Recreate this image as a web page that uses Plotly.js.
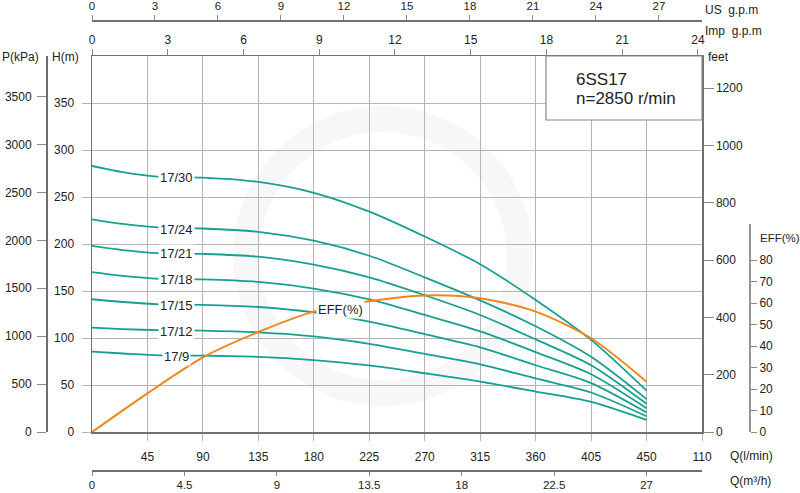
<!DOCTYPE html>
<html>
<head>
<meta charset="utf-8">
<script src="https://cdn.plot.ly/plotly-3.0.1.min.js"></script>
<style>
  html, body { margin: 0; padding: 0; background: #fff; }
  #chart { width: 800px; height: 493px; }
</style>
</head>
<body>
<div id="chart"></div>
<script>
// flow points (l/min) where the head curves were read
var flowLpm = [0, 25, 55, 90, 135, 180, 225, 270, 315, 360, 405, 450];

// head in metres, one array per model
var head30 = [283, 276.5, 271.5, 270.6, 266, 254.5, 234.5, 208, 178.5, 140.5, 98, 44];
var head24 = [226.3, 221.3, 217.5, 216.5, 213, 203.5, 187.5, 164.5, 140, 112.5, 80, 35];
var head21 = [198, 193.6, 190.2, 189.4, 186.5, 178, 164.5, 145.5, 124.5, 98.5, 71, 30];
var head18 = [170, 166, 163, 162.4, 159.7, 152.6, 141, 124.5, 107, 85, 61.5, 25.3];
var head15 = [141.2, 138.3, 135.8, 135.3, 133, 127.2, 117.3, 104, 90, 71, 52, 20.7];
var head12 = [111, 109.5, 108.3, 107.8, 106, 101.7, 93.8, 83, 72, 57, 42, 16.7];
var head9  = [85.4, 83.5, 81.5, 81.2, 80, 76.5, 70.8, 62.5, 53.7, 43, 32, 12.8];

var models = ["17/30", "17/24", "17/21", "17/18", "17/15", "17/12", "17/9"];
var heads = [head30, head24, head21, head18, head15, head12, head9];

// efficiency curve
var effFlow = [0, 45, 90, 135, 180, 225, 270, 315, 360, 405, 450];
var effPct  = [0, 18, 34.7, 46.5, 56, 60.8, 63.5, 62.2, 56, 43.6, 23.4];

// axis ticks
var lpmTicks = [45, 90, 135, 180, 225, 270, 315, 360, 405, 450, 495];
var lpmText  = ["45", "90", "135", "180", "225", "270", "315", "360", "405", "450", "110"];
var m3hTicks = [0, 4.5, 9, 13.5, 18, 22.5, 27];
var usTicks  = [0, 3, 6, 9, 12, 15, 18, 21, 24, 27];
var impTicks = [0, 3, 6, 9, 12, 15, 18, 21, 24];
var hTicks   = [0, 50, 100, 150, 200, 250, 300, 350];
var pTicks   = [0, 500, 1000, 1500, 2000, 2500, 3000, 3500];
var ftTicks  = [0, 200, 400, 600, 800, 1000, 1200];
var effTicks = [0, 10, 20, 30, 40, 50, 60, 70, 80];

var W = 800, H = 493;
function px(x) { return x / W; }
function py(y) { return 1 - y / H; }

var teal = "#16a090";
var orange = "#f08520";
var grid = "#b4b4b4";
var axisCol = "#707070";

var data = [];
heads.forEach(function (h, i) {
  data.push({
    type: "scatter", mode: "lines", x: flowLpm, y: h, name: models[i],
    line: { color: teal, width: 1.8, shape: "spline", smoothing: 0.8 },
    hoverinfo: "skip"
  });
});
data.push({
  type: "scatter", mode: "lines", x: effFlow, y: effPct, name: "EFF(%)",
  yaxis: "y4",
  line: { color: orange, width: 2, shape: "spline", smoothing: 0.8 },
  hoverinfo: "skip"
});
// empty holders so the extra scales get drawn
[["x2", "y"], ["x3", "y"], ["x4", "y"], ["x", "y2"], ["x", "y3"]].forEach(function (p) {
  data.push({
    type: "scatter", mode: "markers", x: [0], y: [0], xaxis: p[0], yaxis: p[1],
    marker: { opacity: 0 }, hoverinfo: "skip"
  });
});

var labelY = [177, 229, 254, 279, 305, 331, 356];
var annotations = models.map(function (m, i) {
  return {
    xref: "paper", yref: "paper", x: px(176), y: py(labelY[i]),
    xanchor: "center", yanchor: "middle",
    text: m, showarrow: false, bgcolor: "#fff", borderpad: 1,
    font: { size: 13, color: "#222" }
  };
});
function note(text, x, y, anchor, size) {
  annotations.push({
    xref: "paper", yref: "paper", x: px(x), y: py(y), text: text,
    showarrow: false, xanchor: anchor || "left", yanchor: "middle",
    font: { size: size || 12, color: "#222" }
  });
}
annotations.push({
  xref: "paper", yref: "paper", x: px(340), y: py(309), text: "EFF(%)",
  xanchor: "center", yanchor: "middle",
  showarrow: false, bgcolor: "#fff", borderpad: 1, font: { size: 13, color: "#222" }
});
note("P(kPa)", 0, 57);
note("H(m)", 50, 57);
note("feet", 706, 57);
note("US  g.p.m", 703, 10);
note("Imp  g.p.m", 703, 31);
note("EFF(%)", 758, 238, "left", 11.5);
note("Q(l/min)", 728, 456);
note("Q(m³/h)", 728, 481);
note("6SS17", 574, 79, "left", 17);
note("n=2850 r/min", 574, 99, "left", 17);

var baseAxis = {
  showgrid: false, zeroline: false, showline: true, linecolor: axisCol, linewidth: 1.5,
  ticks: "outside", tickcolor: "#888", ticklen: 6, tickfont: { size: 12, color: "#222" }
};
function ax(extra) { return Object.assign({}, baseAxis, extra); }

var layout = {
  width: W, height: H,
  margin: { l: 0, r: 0, t: 0, b: 0 },
  paper_bgcolor: "#fff", plot_bgcolor: "#fff",
  showlegend: false,
  font: { family: "Liberation Sans, Arial, sans-serif", size: 12, color: "#222" },
  xaxis: ax({
    domain: [px(92), px(702)], range: [0, 495], anchor: "y",
    tickmode: "array", tickvals: lpmTicks, ticktext: lpmText,
    showgrid: true, gridcolor: grid, ticklen: 7, tickcolor: grid, ticklabelstandoff: 6
  }),
  xaxis2: ax({
    overlaying: "x", anchor: "free", position: py(470), side: "bottom",
    range: [0, 29.7], tickmode: "array", tickvals: m3hTicks, ticklen: 4,
    ticklabelstandoff: 0, tickfont: { size: 11.5, color: "#222" }
  }),
  xaxis3: ax({
    overlaying: "x", anchor: "y", side: "top",
    range: [0, 24.16], tickmode: "array", tickvals: impTicks, ticklen: 6
  }),
  xaxis4: ax({
    overlaying: "x", anchor: "free", position: py(20), side: "top",
    range: [0, 29.05], tickmode: "array", tickvals: usTicks, ticklen: 5,
    ticklabelstandoff: 0, tickfont: { size: 11.5, color: "#222" }
  }),
  yaxis: ax({
    domain: [py(432), py(56)], range: [0, 400], anchor: "x",
    tickmode: "array", tickvals: hTicks, showgrid: true, gridcolor: grid,
    ticklen: 9, tickcolor: grid, ticklabelstandoff: 5
  }),
  yaxis2: ax({
    overlaying: "y", anchor: "free", position: px(46), side: "left",
    range: [0, 3924], tickmode: "array", tickvals: pTicks, ticklen: 9,
    ticklabelstandoff: 3
  }),
  yaxis3: ax({
    overlaying: "y", anchor: "x", side: "right",
    range: [0, 1312.3], tickmode: "array", tickvals: ftTicks, ticklen: 10
  }),
  yaxis4: ax({
    overlaying: "y", anchor: "free", position: px(750), side: "right",
    range: [0, 174.9], tickmode: "array", tickvals: effTicks, ticklen: 6,
    showline: false
  }),
  shapes: [
    // faint watermark ring behind the curves
    { type: "circle", xref: "paper", yref: "paper",
      x0: px(383 - 137), x1: px(383 + 137), y0: py(256 + 137), y1: py(256 - 137),
      line: { color: "rgba(205,205,212,0.16)", width: 26 }, layer: "below" },
    { type: "rect", xref: "paper", yref: "paper",
      x0: px(546), x1: px(702), y0: py(120), y1: py(56),
      fillcolor: "#fff", line: { color: "#888", width: 1.2 }, layer: "above" },
    { type: "line", xref: "paper", yref: "paper",
      x0: px(750), x1: px(750), y0: py(432), y1: py(224),
      line: { color: axisCol, width: 1.5 } }
  ],
  annotations: annotations
};

Plotly.newPlot("chart", data, layout, { displayModeBar: false, responsive: false, staticPlot: true });
</script>
</body>
</html>
